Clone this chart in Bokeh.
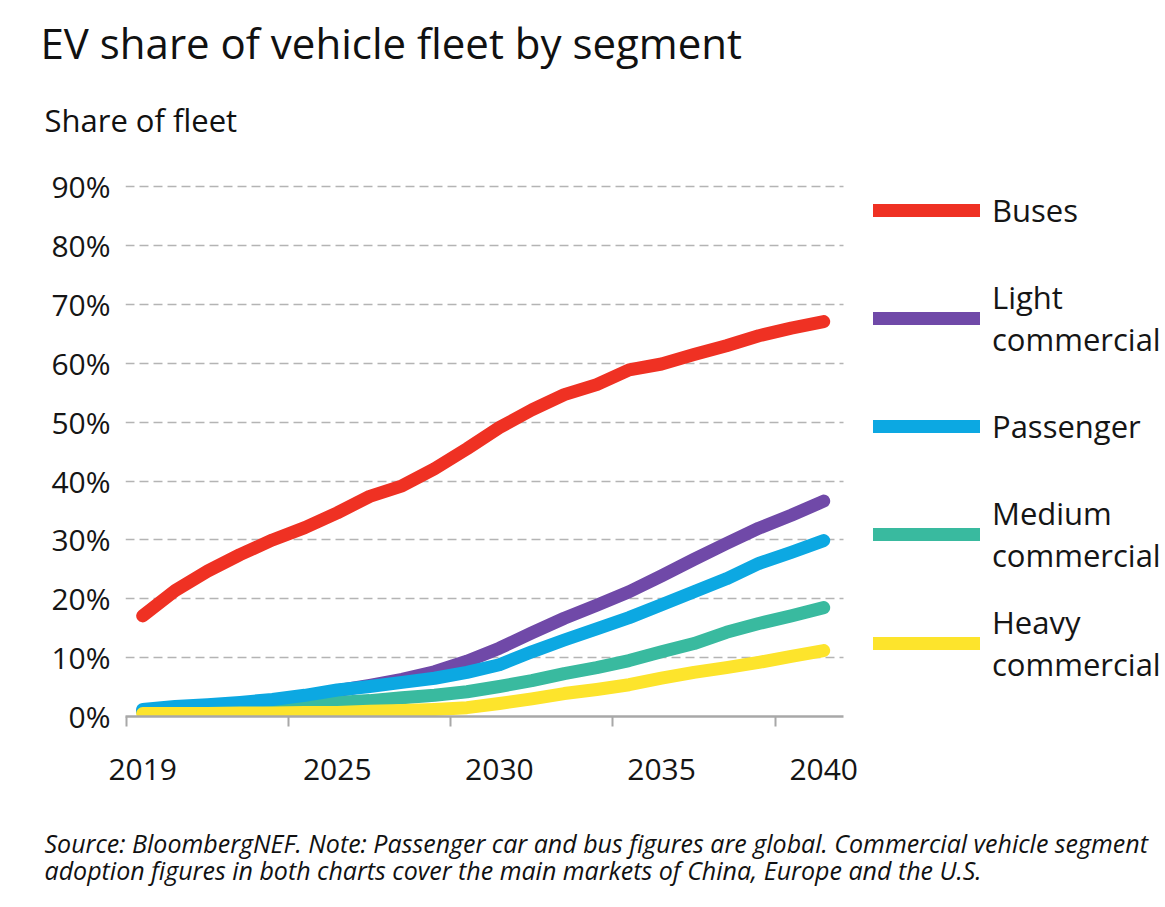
from bokeh.plotting import figure
from bokeh.models import (Range1d, FixedTicker, PrintfTickFormatter, Title, Legend, LegendItem,
                          BoxAnnotation)
from bokeh.embed import file_html
from bokeh.resources import INLINE

# ---------------- data ----------------
years = [2019, 2020, 2021, 2022, 2023, 2024, 2025, 2026, 2027, 2028, 2029,
         2030, 2031, 2032, 2033, 2034, 2035, 2036, 2037, 2038, 2039, 2040]
buses = [17.1, 21.4, 24.7, 27.5, 30.0, 32.1, 34.6, 37.4, 39.2, 42.1, 45.5,
         49.1, 52.1, 54.7, 56.4, 58.9, 59.9, 61.5, 63.0, 64.7, 66.0, 67.1]
light_commercial = [1.0, 1.3, 1.6, 2.0, 2.6, 3.3, 4.4, 5.3, 6.3, 7.6, 9.4,
                    11.6, 14.2, 16.7, 18.9, 21.2, 23.9, 26.7, 29.4, 32.0, 34.2, 36.6]
passenger = [1.2, 1.7, 2.0, 2.4, 2.9, 3.6, 4.5, 5.1, 5.8, 6.5, 7.5,
             8.8, 11.0, 13.0, 14.9, 16.8, 19.0, 21.2, 23.4, 26.0, 27.9, 29.9]
medium_commercial = [0.8, 1.0, 1.2, 1.4, 1.7, 2.0, 2.4, 2.7, 3.2, 3.6, 4.2,
                     5.1, 6.1, 7.3, 8.3, 9.5, 11.0, 12.4, 14.3, 15.8, 17.1, 18.5]
heavy_commercial = [0.5, 0.5, 0.5, 0.6, 0.6, 0.7, 0.7, 0.9, 1.0, 1.2, 1.5,
                    2.2, 3.0, 3.9, 4.6, 5.4, 6.5, 7.5, 8.3, 9.2, 10.2, 11.2]

x_label_years = [2019, 2025, 2030, 2035, 2040]
x_tick_marks = [2018.5, 2023.5, 2028.5, 2033.5, 2038.5]
y_ticks = [0, 10, 20, 30, 40, 50, 60, 70, 80, 90]

series_names = ["Buses", "Light\ncommercial", "Passenger", "Medium\ncommercial", "Heavy\ncommercial"]
series_colors = ["#EF3123", "#7049A8", "#0CA8E2", "#39BA9F", "#FDE42C"]

title_text = "EV share of vehicle fleet by segment"
subtitle_text = "Share of fleet"
footer_lines = ["Source: BloombergNEF. Note: Passenger car and bus figures are global. Commercial vehicle segment",
                "adoption figures in both charts cover the main markets of China, Europe and the U.S."]

FONT = "Open Sans"
INK = "#151515"

# plotted x extent (axis / grid) and full frame extent (frame also holds the legend)
X0, X1, XFRAME = 2018.47, 2040.61, 2050.54

# ---------------- figure ----------------
p = figure(width=1165, height=907, output_backend="svg", toolbar_location=None,
           x_range=Range1d(X0, XFRAME), y_range=Range1d(0, 95.16),
           min_border_left=125, min_border_right=0, min_border_top=156,
           min_border_bottom=191)
p.outline_line_color = None
p.background_fill_color = "white"
p.border_fill_color = "white"

# titles (main title + subtitle above the frame)
p.title.text = title_text
p.title.align = "left"
p.title.offset = -85
p.title.text_font = FONT
p.title.text_font_size = "42px"
p.title.text_font_style = "normal"
p.title.text_color = "#111111"
p.title.standoff = 22

p.add_layout(Title(text=subtitle_text, align="left", offset=-81, standoff=31,
                   text_font=FONT, text_font_size="31px", text_font_style="normal",
                   text_color="#111111"), "above")

# grid
p.xgrid.grid_line_color = None
p.ygrid.ticker = FixedTicker(ticks=y_ticks)
p.ygrid.grid_line_color = "#b4b4b4"
p.ygrid.grid_line_width = 1.5
p.ygrid.grid_line_dash = "9 5"
ygrid = p.ygrid[0]
if "cross_bounds" in ygrid.properties():
    ygrid.cross_bounds = (X0, X1)
else:
    # white mask hiding the grid beyond the plotted x extent (legend area)
    p.add_layout(BoxAnnotation(left=X1, fill_color="white", fill_alpha=1,
                               line_color=None, level="underlay"))

# y axis
p.yaxis.ticker = FixedTicker(ticks=y_ticks)
p.yaxis.formatter = PrintfTickFormatter(format="%d%%")
p.yaxis.axis_line_color = None
p.yaxis.major_tick_line_color = None
p.yaxis.minor_tick_line_color = None
p.yaxis.major_tick_out = 0
p.yaxis.major_tick_in = 0
p.yaxis.major_label_standoff = 15
p.yaxis.major_label_text_font = FONT
p.yaxis.major_label_text_font_size = "30px"
p.yaxis.major_label_text_color = INK

# x axis
p.xaxis.bounds = (X0, X1)
p.xaxis.ticker = FixedTicker(ticks=x_label_years, minor_ticks=x_tick_marks)
p.xaxis.axis_line_color = "#a8a8a8"
p.xaxis.axis_line_width = 2.5
p.xaxis.major_tick_line_color = None
p.xaxis.major_tick_out = 0
p.xaxis.major_tick_in = 0
p.xaxis.minor_tick_line_color = "#a8a8a8"
p.xaxis.minor_tick_line_width = 2
p.xaxis.minor_tick_out = 10
p.xaxis.minor_tick_in = 0
p.xaxis.major_label_standoff = 32
p.xaxis.major_label_text_font = FONT
p.xaxis.major_label_text_font_size = "30px"
p.xaxis.major_label_text_color = INK

# footer below the x axis (leading blank line gives the gap under the tick labels)
p.add_layout(Title(text="\n" + "\n".join(footer_lines), align="left", offset=-81, standoff=26,
                   text_font=FONT, text_font_size="25px", text_font_style="italic",
                   text_line_height=0.82, text_color="#111111"), "below")

# ---------------- lines ----------------
series = {
    "Buses": buses,
    "Light\ncommercial": light_commercial,
    "Passenger": passenger,
    "Medium\ncommercial": medium_commercial,
    "Heavy\ncommercial": heavy_commercial,
}
draw_order = ["Light\ncommercial", "Medium\ncommercial", "Passenger", "Heavy\ncommercial", "Buses"]
renderers = {}
for name in draw_order:
    color = series_colors[series_names.index(name)]
    renderers[name] = p.line(years, series[name], line_color=color, line_width=13,
                             line_cap="round", line_join="round")

legend = Legend(items=[LegendItem(label=n, renderers=[renderers[n]]) for n in series_names],
                location=(748, 31), orientation="vertical",
                glyph_width=107, glyph_height=20, label_height=82, spacing=25,
                label_standoff=12, padding=0, margin=0,
                label_text_font=FONT, label_text_font_size="31px",
                label_text_color=INK, border_line_color=None,
                background_fill_alpha=0)
p.add_layout(legend)

open("out.html", "w").write(file_html(p, INLINE))
